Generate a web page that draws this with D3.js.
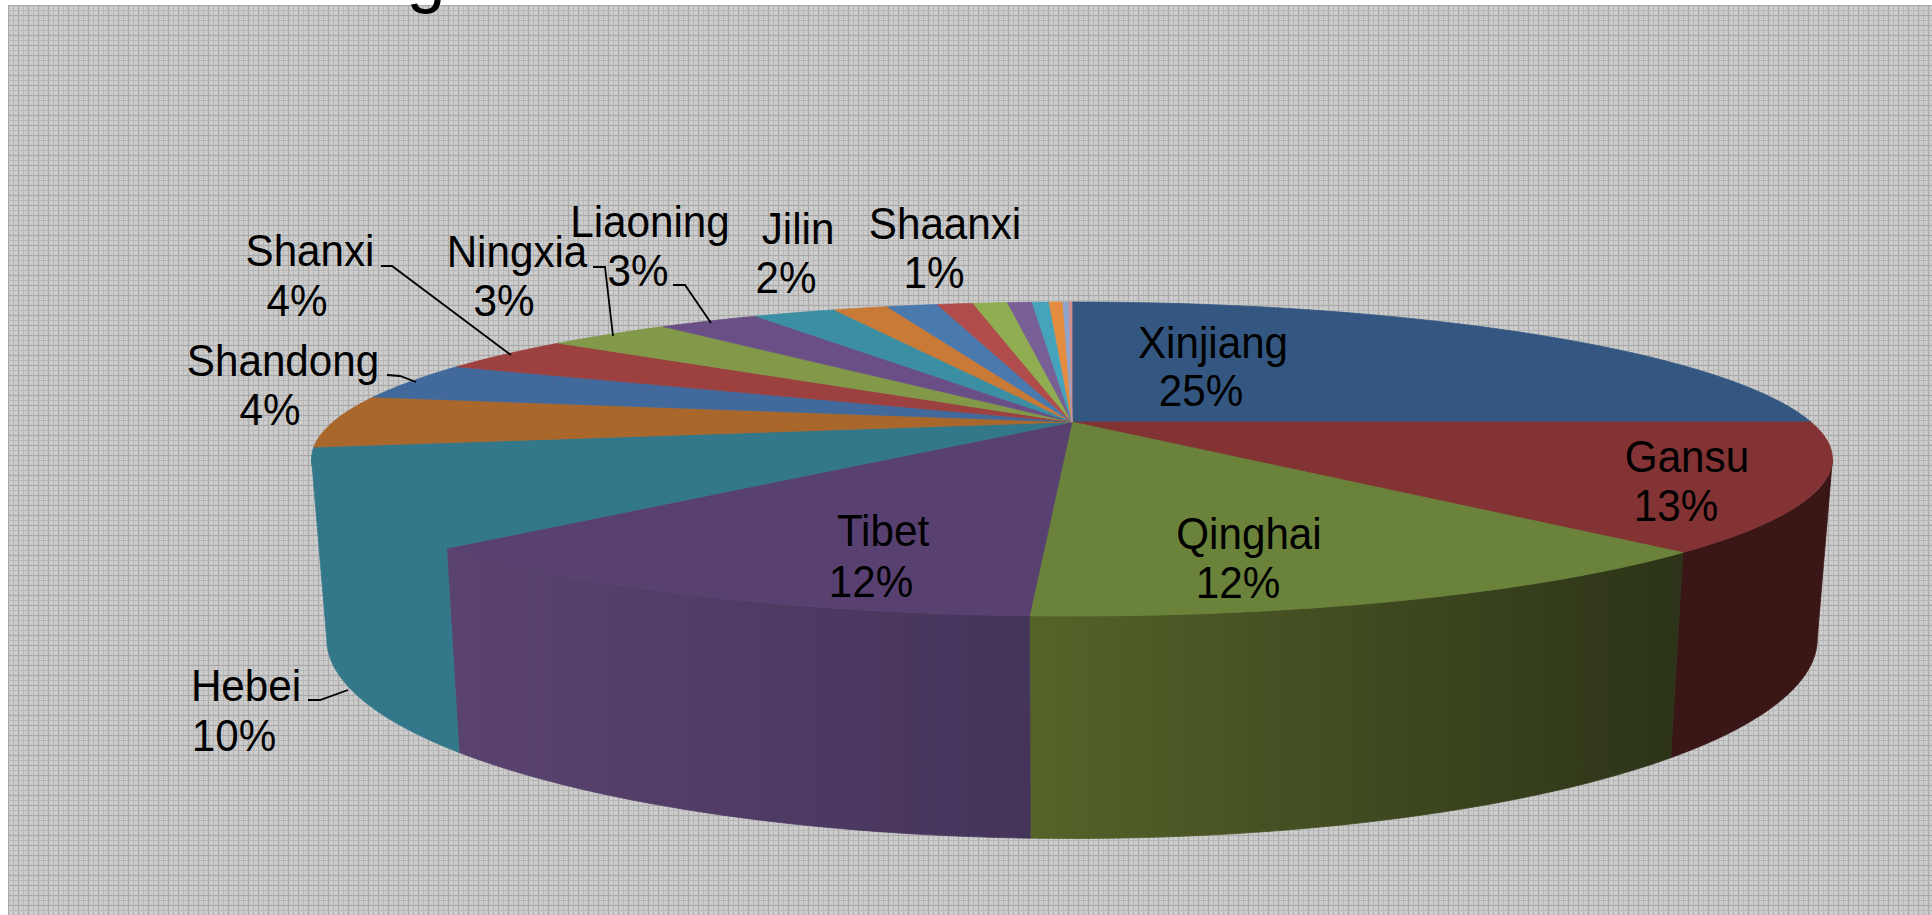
<!DOCTYPE html>
<html><head><meta charset="utf-8">
<style>html,body{margin:0;padding:0;background:#fff;overflow:hidden}svg{display:block}text{font-family:"Liberation Sans",Arial,sans-serif;fill:#000}</style>
<script src="https://cdnjs.cloudflare.com/ajax/libs/d3/7.8.5/d3.min.js"></script>
</head><body><svg id="c" width="1932" height="915"></svg>
<script>
const categories=["Xinjiang","Gansu","Qinghai","Tibet","Hebei","","Shandong","Shanxi","Ningxia","Liaoning","Jilin","","Shaanxi","","","","","","",""];
const shares=[25,13,12.7,11.75,9.95,5.4,3.9,3.7,3.3,2.7,2.2,1.45,1.35,0.96,0.92,0.66,0.45,0.37,0.16,0.08];
const percentLabels=["25%","13%","12%","12%","10%","","4%","4%","3%","3%","2%","","1%","","","","","","",""];
const topColors=["#345781","#833333","#6a823a","#584170","#33778a","#a9672c","#41699b","#9d4140","#82994a","#6a4f86","#3c8ea3","#c97a37","#4a79ae","#b04c4b","#91ad52","#785f96","#45a3bc","#e48c3f","#8ea5cd","#cf8f8e"];
const wallStops={Gansu:["#3a1716","#3a1716"],Qinghai:["#556329","#2c3318"],Tibet:["#5b4370","#44345a"],Hebei:["#33778a","#33778a"]};

// label placement: [name x, name y, percent x, percent y] (centres)
const labelPlace={Xinjiang:[1213,342,1201,390],Gansu:[1687,456,1676,505],Qinghai:[1249,533,1238,582],Tibet:[883,530,871,581],Hebei:[246,685,234,735],Shandong:[283,360,270,409],Shanxi:[310,250,297,300],Ningxia:[517,251,504,300],Liaoning:[650,221,638,270],Jilin:[798,228,786,277],Shaanxi:[945,223,934,272]};
const leaders=[[[381,266],[392,266],[511,355]],[[593,267],[605,267],[613,336]],[[673,285],[685,285],[711,323]],[[387,375],[400,376],[416,382]],[[308,700],[320,700],[348,690]]];

// perspective disc: apex (x0,y0), a/b radii, k foreshortening, d thickness, s bottom x-scale
const x0=1072,y0=422,a=739,b=148.3,k=-0.2357,d=170,s=0.98;
const topPt=t=>{const u=Math.sin(t),v=-Math.cos(t),w=1+k*v;return [x0+a*u/w,y0+b*v/w];};
const botPt=t=>{const u=Math.sin(t),v=-Math.cos(t),w=1+k*v;return [x0+s*a*u/w,y0+(b*v+d)/w];};
const samples=(t0,t1,f)=>d3.range(0,41).map(i=>f(t0+(t1-t0)*i/40));
const line=d3.line();

const svg=d3.select("#c");
const defs=svg.append("defs");
const pat=defs.append("pattern").attr("id","bg").attr("patternUnits","userSpaceOnUse").attr("width",10).attr("height",10).attr("x",8).attr("y",5);
pat.append("rect").attr("width",10).attr("height",10).attr("fill","#c7c7c7");
d3.range(2,9).forEach(i=>d3.range(2,9).forEach(j=>{if((i+j)%2==0)pat.append("rect").attr("x",i).attr("y",j).attr("width",1).attr("height",1).attr("fill","#d4d4d4");}));
pat.append("rect").attr("width",10).attr("height",1).attr("fill","#a8a8a8");
pat.append("rect").attr("width",1).attr("height",10).attr("fill","#a8a8a8");
pat.append("rect").attr("y",5).attr("width",10).attr("height",1).attr("fill","#b6b6b6");
pat.append("rect").attr("x",5).attr("width",1).attr("height",10).attr("fill","#b6b6b6");
svg.append("rect").attr("x",8).attr("y",5).attr("width",1924).attr("height",910).attr("fill","url(#bg)");

const arcs=d3.pie().sort(null).value(v=>v).startAngle(0).endAngle(2*Math.PI)(shares);
const tMin=Math.acos(k), tMax=2*Math.PI-Math.acos(k);

// walls
arcs.forEach(p=>{
  const name=categories[p.index];
  const t0=Math.max(p.startAngle,tMin),t1=Math.min(p.endAngle,tMax);
  if(t1<=t0||!wallStops[name])return;
  const up=samples(t0,t1,topPt),dn=samples(t1,t0,botPt);
  const xs=up.concat(dn).map(q=>q[0]);
  const id="w"+p.index;
  const g=defs.append("linearGradient").attr("id",id).attr("gradientUnits","userSpaceOnUse")
    .attr("x1",d3.min(xs)).attr("x2",d3.max(xs)).attr("y1",0).attr("y2",0);
  g.append("stop").attr("offset",0).attr("stop-color",wallStops[name][0]);
  g.append("stop").attr("offset",1).attr("stop-color",wallStops[name][1]);
  svg.append("path").attr("d",line(up.concat(dn))+"Z").attr("fill",`url(#${id})`)
    .attr("stroke",`url(#${id})`).attr("stroke-width",0.8);
});

// top surface
svg.append("g").selectAll("path").data(arcs).join("path")
  .attr("d",p=>line([[x0,y0]].concat(samples(p.startAngle,p.endAngle,topPt)))+"Z")
  .attr("fill",p=>topColors[p.index])
  .attr("stroke",p=>topColors[p.index]).attr("stroke-width",0.8);

// leaders
svg.append("g").selectAll("path").data(leaders).join("path")
  .attr("d",l=>line(l)).attr("fill","none").attr("stroke","#000").attr("stroke-width",1.8);

// labels
const addLabel=(x,y,str)=>svg.append("text").attr("transform",`translate(${x},${y}) scale(1,1.05)`)
  .attr("dy","0.35em").attr("text-anchor","middle").attr("font-size",42.2).text(str);
categories.forEach((n,i)=>{
  if(!n)return;
  const q=labelPlace[n];
  addLabel(q[0],q[1],n);
  addLabel(q[2],q[3],percentLabels[i]);
});

// cropped title: only the descender survives at the top edge
svg.append("text").attr("x",426).attr("y",-1).attr("text-anchor","middle").attr("font-size",70).text("g");
</script></body></html>
